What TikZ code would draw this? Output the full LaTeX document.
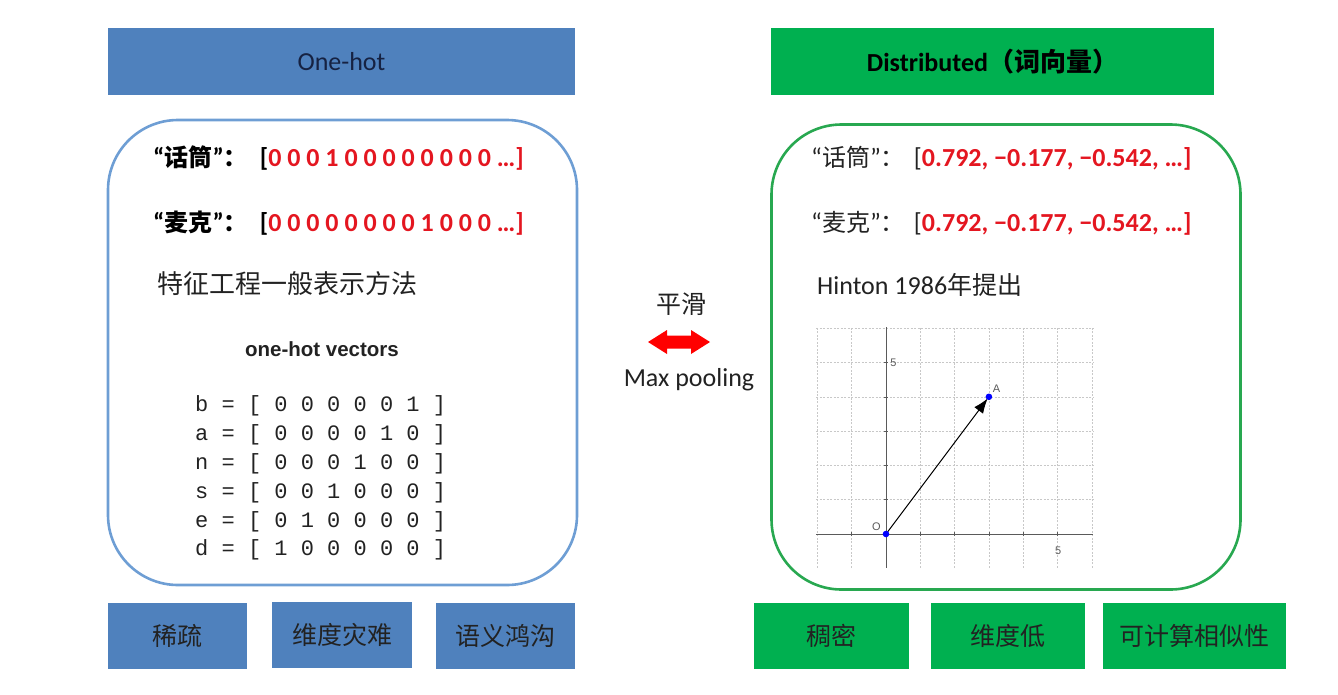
\documentclass[tikz,border=0pt]{standalone}
\usepackage{fontspec}
\setmainfont{Carlito}
\newfontfamily\cjk{Noto Sans CJK SC}
\newfontfamily\carl{Carlito}
\newfontfamily\mono{Liberation Mono}
\newfontfamily\helv{Liberation Sans}
\usetikzlibrary{arrows.meta}
\definecolor{hdrblue}{RGB}{79,129,189}
\definecolor{hdrgreen}{RGB}{0,176,80}
\definecolor{boxblue}{RGB}{110,158,212}
\definecolor{boxgreen}{RGB}{40,168,80}
\definecolor{txtred}{RGB}{228,22,32}
\definecolor{navy}{RGB}{22,34,66}
\definecolor{darktxt}{RGB}{34,34,34}
\definecolor{gridc}{RGB}{200,200,200}
\definecolor{axisc}{RGB}{90,90,90}
\tikzset{
  hdr/.style={inner sep=0pt, minimum height=67pt},
  panel/.style={line width=2.6pt, rounded corners=70pt, minimum width=469pt, minimum height=465pt, inner sep=0pt},
  tagbox/.style={inner sep=0pt, minimum height=66pt, text=darktxt, font=\cjk\fontsize{25}{25}\selectfont},
  txt/.style={anchor=west, inner sep=0pt},
  rowtxt/.style={anchor=west, inner sep=0pt, font=\mono\fontsize{22}{22}\selectfont, text=darktxt},
  lbl/.style={inner sep=0pt, text=axisc, font=\helv\fontsize{11}{11}\selectfont}
}
\begin{document}
\begin{tikzpicture}[x=1pt,y=-1pt]
\useasboundingbox (0,0) rectangle (1338,694);
% headers
\node[hdr, fill=hdrblue, minimum width=467pt, text=navy, font=\carl\fontsize{26}{26}\selectfont] (h1) at (341.5,61.5) {One-hot};
\node[hdr, fill=hdrgreen, minimum width=443pt, text=black, font=\carl\bfseries\fontsize{26}{26}\selectfont] (h2) at (992.5,61.5) {Distributed{\cjk（词向量）}};
% panels
\node[panel, draw=boxblue] (lp) at (342.5,352.5) {};
\node[panel, draw=boxgreen] (rp) at (1006,357) {};
% left texts
\node[txt] (l1) at (153,158) {\bfseries{\carl\fontsize{26}{26}\selectfont “}{\cjk\fontsize{24}{24}\selectfont 话筒}{\carl\fontsize{26}{26}\selectfont ”}{\cjk\fontsize{24}{24}\selectfont ：}\hspace{12pt}\carl\fontsize{26}{26}\selectfont[\textcolor{txtred}{0 0 0 1 0 0 0 0 0 0 0 0 …]}};
\node[txt] (l2) at (153,223) {\bfseries{\carl\fontsize{26}{26}\selectfont “}{\cjk\fontsize{24}{24}\selectfont 麦克}{\carl\fontsize{26}{26}\selectfont ”}{\cjk\fontsize{24}{24}\selectfont ：}\hspace{12pt}\carl\fontsize{26}{26}\selectfont[\textcolor{txtred}{0 0 0 0 0 0 0 0 1 0 0 0 …]}};
\node[txt, text=darktxt, font=\cjk\fontsize{26}{26}\selectfont] (l3) at (157,284) {特征工程一般表示方法};
\node[inner sep=0pt, text=darktxt, font=\helv\bfseries\fontsize{20.5}{20.5}\selectfont] (ohv) at (322,349) {one-hot vectors};
\node[rowtxt] (r1) at (195,406) {b = [ 0 0 0 0 0 1 ]};
\node[rowtxt] (r2) at (195,435) {a = [ 0 0 0 0 1 0 ]};
\node[rowtxt] (r3) at (195,464) {n = [ 0 0 0 1 0 0 ]};
\node[rowtxt] (r4) at (195,493) {s = [ 0 0 1 0 0 0 ]};
\node[rowtxt] (r5) at (195,522) {e = [ 0 1 0 0 0 0 ]};
\node[rowtxt] (r6) at (195,550) {d = [ 1 0 0 0 0 0 ]};
% right texts
\node[txt, text=darktxt] (g1) at (811,158) {{\carl\fontsize{26}{26}\selectfont “}{\cjk\fontsize{24}{24}\selectfont 话筒}{\carl\fontsize{26}{26}\selectfont ”}{\cjk\fontsize{24}{24}\selectfont ：}\hspace{9pt}\carl\fontsize{26}{26}\selectfont[\textcolor{txtred}{\bfseries 0.792, −0.177, −0.542, …]}};
\node[txt, text=darktxt] (g2) at (811,223) {{\carl\fontsize{26}{26}\selectfont “}{\cjk\fontsize{24}{24}\selectfont 麦克}{\carl\fontsize{26}{26}\selectfont ”}{\cjk\fontsize{24}{24}\selectfont ：}\hspace{9pt}\carl\fontsize{26}{26}\selectfont[\textcolor{txtred}{\bfseries 0.792, −0.177, −0.542, …]}};
\node[txt, text=darktxt, font=\carl\fontsize{26}{26}\selectfont] (g3) at (817,285) {Hinton 1986{\cjk\fontsize{25}{25}\selectfont 年提出}};
% graph
\begin{scope}[shift={(886,534)}, x=34.3pt, y=34.3pt]
  \foreach \i in {-2,...,6} \draw[gridc, line width=0.5pt, dash pattern=on 2pt off 1.5pt] (\i,-0.98) -- (\i,6.03);
  \foreach \j in {1,...,6} \draw[gridc, line width=0.5pt, dash pattern=on 2pt off 1.5pt] (-2.04,\j) -- (6.03,\j);
  \draw[axisc, line width=0.9pt] (-2.04,0) -- (6.03,0);
  \draw[axisc, line width=0.9pt] (0,-0.98) -- (0,6.03);
  \foreach \i in {-1,1,2,3,4,5} \draw[axisc, line width=0.6pt] (\i,-0.07) -- (\i,0.07);
  \foreach \j in {1,2,3,4,5} \draw[axisc, line width=0.6pt] (-0.07,\j) -- (0.07,\j);
  \coordinate (O) at (0,0);
  \coordinate (A) at (3,4);
  \draw[black, line width=1pt, -{Latex[length=15pt,width=11pt]}, shorten >=2pt] (O) -- (A);
  \fill[blue] (O) circle (3.3pt);
  \fill[blue] (A) circle (3.3pt);
  \node[lbl] (lo) at (-0.28,0.22) {O};
  \node[lbl] (la) at (3.22,4.25) {A};
  \node[lbl] (l5y) at (0.22,5) {5};
  \node[lbl] (l5x) at (5.02,-0.5) {5};
\end{scope}
% centre
\node[inner sep=0pt, text=darktxt, font=\cjk\fontsize{25}{25}\selectfont] (ph) at (681,304) {平滑};
\fill[red] (648,342) -- (667,330) -- (667,335.5) -- (691,335.5) -- (691,330) -- (710,342) -- (691,354) -- (691,348.5) -- (667,348.5) -- (667,354) -- cycle;
\node[inner sep=0pt, text=darktxt, font=\carl\fontsize{26}{26}\selectfont] (mp) at (689,380) {Max pooling};
% bottom tags
\node[tagbox, fill=hdrblue, minimum width=139pt] (b1) at (177.5,636) {稀疏};
\node[tagbox, fill=hdrblue, minimum width=140pt] (b2) at (342,635) {维度灾难};
\node[tagbox, fill=hdrblue, minimum width=139pt] (b3) at (505.5,636) {语义鸿沟};
\node[tagbox, fill=hdrgreen, minimum width=155pt] (c1) at (831.5,636) {稠密};
\node[tagbox, fill=hdrgreen, minimum width=154pt] (c2) at (1008,636) {维度低};
\node[tagbox, fill=hdrgreen, minimum width=183pt] (c3) at (1194,636) {可计算相似性};
\end{tikzpicture}
\end{document}
